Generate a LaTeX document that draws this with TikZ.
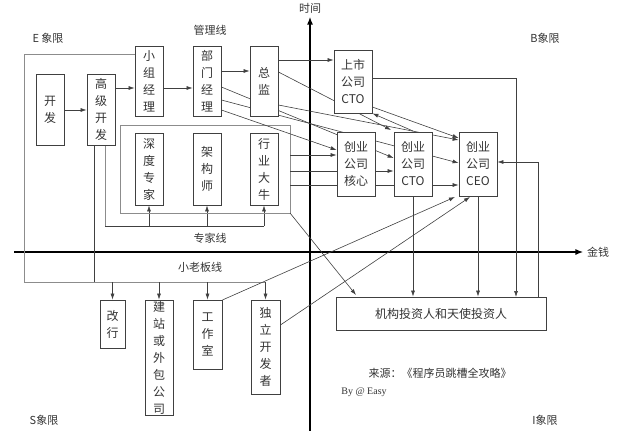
\documentclass[tikz,border=0pt]{standalone}
\usepackage{fontspec}
\setmainfont{Liberation Serif}
\newfontfamily\cjk{Noto Sans CJK SC}
\usetikzlibrary{arrows.meta,backgrounds}
\begin{document}
\begin{tikzpicture}[x=1pt,y=-1pt,
  box/.style={draw=black!75,line width=0.8pt,fill=white,inner sep=0pt,align=center,font=\cjk\fontsize{12}{17}\selectfont,text=black!80},
  ln/.style={draw=black!75,line width=0.6pt},
  gl/.style={draw=black!45,line width=0.6pt},
  arr/.style={ln,-{Latex[length=6pt,width=4pt]}},
  axis/.style={line width=2pt,-{Latex[length=8pt,width=6pt]}},
  lbl/.style={font=\cjk\fontsize{11}{13}\selectfont,text=black!80}]
\useasboundingbox (0,0) rectangle (624,431);
% boxes
\node[box,minimum width=28,minimum height=71] (kf) at (50,109.5) {开\\发};
\node[box,minimum width=28,minimum height=71] (gj) at (101,109.5) {高\\级\\开\\发};
\node[box,minimum width=28,minimum height=70] (xz) at (149,81) {小\\组\\经\\理};
\node[box,minimum width=28,minimum height=70] (bm) at (207,81) {部\\门\\经\\理};
\node[box,minimum width=28,minimum height=70] (zj) at (264,81) {总\\监};
\node[box,minimum width=28,minimum height=72] (sd) at (149,169) {深\\度\\专\\家};
\node[box,minimum width=28,minimum height=72] (jgs) at (207,169) {架\\构\\师};
\node[box,minimum width=28,minimum height=72] (hy) at (264,169) {行\\业\\大\\牛};
\node[box,minimum width=38,minimum height=63] (ss) at (353,81.5) {上市\\公司\\CTO};
\node[box,minimum width=38,minimum height=64] (hx) at (356,164) {创业\\公司\\核心};
\node[box,minimum width=38,minimum height=64] (cto) at (413,164) {创业\\公司\\CTO};
\node[box,minimum width=38,minimum height=64] (ceo) at (478,164) {创业\\公司\\CEO};
\node[box,minimum width=210,minimum height=33] (tz) at (441,313.5) {机构投资人和天使投资人};
\node[box,minimum width=25,minimum height=48] (gh) at (112.5,324) {改\\行};
\node[box,minimum width=28,minimum height=115] (jz) at (159,357.5) {建\\站\\或\\外\\包\\公\\司};
\node[box,minimum width=29,minimum height=69] (gzs) at (207.5,334.5) {工\\作\\室};
\node[box,minimum width=29,minimum height=94] (dl) at (265.5,347) {独\\立\\开\\发\\者};
% labels
\node[lbl] (tE) at (48,38) {E 象限};
\node[lbl] (tB) at (545,38) {B象限};
\node[lbl] (tS) at (44,420) {S象限};
\node[lbl] (tI) at (545,420) {I象限};
\node[lbl] (tg) at (210,30) {管理线};
\node[lbl] (tz2) at (210,238) {专家线};
\node[lbl] (tx) at (200,267) {小老板线};
\node[lbl] (tt) at (310,8) {时间};
\node[lbl] (tm) at (598,252) {金钱};
\node[lbl] (src) at (440,373) {来源：《程序员跳槽全攻略》};
\node[lbl,font=\fontsize{10}{12}\selectfont] (by) at (364,392) {By @ Easy};
\begin{scope}[on background layer]
% axes
\draw[axis] (310,431) -- (tt.south);
\draw[axis] (14,252) -- (tm.west);
% management line
\draw[arr] (kf.east |- 0,110) -- (gj.west |- 0,110);
\draw[arr] (gj.east |- 0,88) -- (xz.west |- 0,88);
\draw[arr] (xz.east |- 0,88) -- (bm.west |- 0,88);
\draw[arr] (bm.east |- 0,71) -- (zj.west |- 0,71);
\draw[arr] (zj.east |- 0,60) -- (ss.west |- 0,60);
% outer frame / small boss line
\draw[gl] (xz.west |- 0,54) -- (24,54) -- (24,282) -- (265.5,282);
\draw[ln] (94,145) -- (94,282);
\draw[arr] (112.5,282) -- (gh.north);
\draw[arr] (159,282) -- (jz.north);
\draw[arr] (207.5,282) -- (gzs.north);
\draw[arr] (265.5,282) -- (dl.north);
% expert line
\draw[gl] (105,145) -- (105,226);
\draw[ln] (105,226) -- (264,226);
\draw[arr] (149,226) -- (sd.south);
\draw[arr] (207,226) -- (jgs.south);
\draw[arr] (264,226) -- (hy.south);
\draw[gl] (120,125) rectangle (290,213);
\draw[arr] (290,213) -- (356,295);
\draw[arr] (290,155) -- (hx.west |- 0,155);
\draw[arr] (290,171) -- (cto.west |- 0,171);
\draw[arr] (290,185) -- (ceo.west |- 0,185);
% diagonals
\draw[arr] (zj.east |- 0,72) -- (391,130);
\draw[arr] (zj.east |- 0,105) -- (ceo.west |- 0,140);
\draw[arr] (bm.east |- 0,87) -- (cto.west |- 0,158);
\draw[arr] (bm.east |- 0,100) -- (ceo.west |- 0,163);
\draw[arr] (bm.east |- 0,110) -- (hx.west |- 0,150);
\draw[arr] (413,131) -- (ss.south east);
\draw[arr] (ss.east |- 0,107) -- (ceo.west |- 0,138);
% right side
\draw[arr] (ss.east |- 0,78) -- (516,78) -- (516,297);
\draw[arr] (cto.south) -- (cto.south |- tz.north);
\draw[arr] (ceo.south) -- (ceo.south |- tz.north);
\draw[arr] (538,297) -- (538,162) -- (ceo.east |- 0,162);
\draw[arr] (gzs.east |- 0,300) -- (455,197);
\draw[arr] (dl.east |- 0,325) -- (470,197);
\end{scope}
\end{tikzpicture}
\end{document}
